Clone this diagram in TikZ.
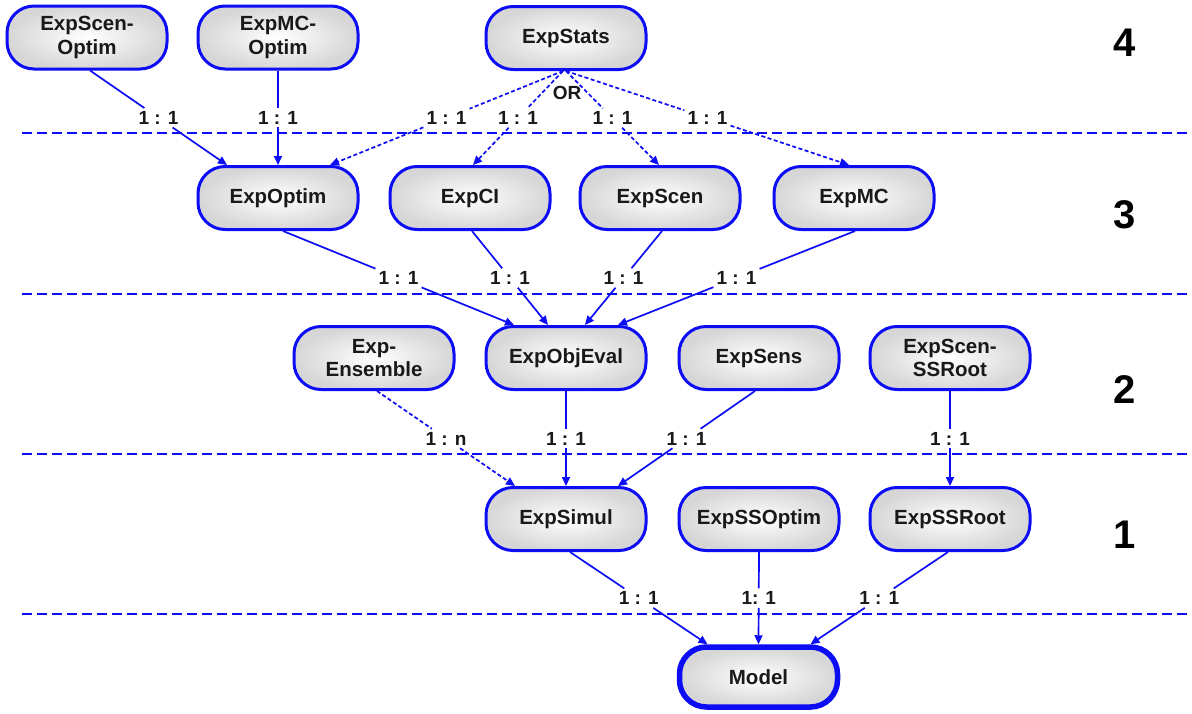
\documentclass[tikz,border=0pt]{standalone}
\usepackage{fontspec}
\setmainfont{Liberation Sans}
\usetikzlibrary{arrows.meta,calc}
\definecolor{linkblue}{RGB}{12,12,245}
\definecolor{ink}{RGB}{25,25,25}

% one connector: label at the midpoint, line broken around it
\newcommand{\linkit}[5]{%
  \node[lbl] (#5) at ($(#2)!0.5!(#3)$) {#4};
  \draw[conn,#1] (#2) -- (#5);
  \draw[conn,#1,tip] (#5) -- (#3);
}

\begin{document}
\begin{tikzpicture}[x=1pt,y=-1pt,
  box/.style={draw=linkblue, line width=3pt, rounded corners=27pt,
    minimum width=160pt, minimum height=63pt, inner sep=2pt,
    inner color=white, outer color=black!16,
    font=\bfseries\fontsize{20.5}{23.5}\selectfont, align=center, text=ink},
  mainbox/.style={box, line width=5.5pt, minimum width=158pt, minimum height=60pt},
  conn/.style={draw=linkblue, line width=1.7pt},
  tip/.style={-{Triangle[length=9pt,width=8pt]}},
  dotln/.style={dash pattern=on 4pt off 2.5pt},
  lbl/.style={font=\bfseries\fontsize{19}{19}\selectfont, text=ink, inner sep=3pt},
  sep/.style={draw=linkblue, line width=1.7pt, dash pattern=on 10pt off 5pt},
  level/.style={font=\bfseries\fontsize{40}{40}\selectfont, text=black}
]
\useasboundingbox[fill=white] (0,0) rectangle (1192,713);

% level separators
\foreach \yy in {133,294,454,614}
  \draw[sep] (22,\yy) -- (1192,\yy);

% level numbers
\node[level] (n4) at (1125,43) {4};
\node[level] (n3) at (1125,215) {3};
\node[level] (n2) at (1125,390) {2};
\node[level] (n1) at (1125,535) {1};

% level 4
\node[box] (eso) at (87,37.5) {ExpScen-\\Optim};
\node[box] (emo) at (278,37.5) {ExpMC-\\Optim};
\node[box] (est) at (566,38) {ExpStats};
% level 3
\node[box] (eop) at (278,198) {ExpOptim};
\node[box] (eci) at (470,198) {ExpCI};
\node[box] (esc) at (660,198) {ExpScen};
\node[box] (emc) at (854,198) {ExpMC};
% level 2
\node[box] (ens) at (374,358) {Exp-\\Ensemble};
\node[box] (eoe) at (566,358) {ExpObjEval};
\node[box] (ese) at (759,358) {ExpSens};
\node[box] (escr) at (950,358) {ExpScen-\\SSRoot};
% level 1
\node[box] (esi) at (566,519) {ExpSimul};
\node[box] (esso) at (759,519) {ExpSSOptim};
\node[box] (essr) at (950,519) {ExpSSRoot};
% model
\node[mainbox] (mod) at (758.5,677) {Model};

% attachment points
\coordinate (a1) at ($(eso.south)+(3,0)$);   \coordinate (b1) at ($(eop.north)+(-51,0)$);
\coordinate (a2) at (emo.south);             \coordinate (b2) at (eop.north);
\coordinate (a3) at ($(est.south)+(-3,0)$);  \coordinate (b3) at ($(eop.north)+(52,0)$);
\coordinate (a4) at ($(est.south)+(-3,0)$);  \coordinate (b4) at ($(eci.north)+(3,0)$);
\coordinate (a5) at (est.south);             \coordinate (b5) at ($(esc.north)+(-1,0)$);
\coordinate (a6) at (est.south);             \coordinate (b6) at ($(emc.north)+(-5,0)$);
\coordinate (a7) at ($(eop.south)+(5,0)$);   \coordinate (b7) at ($(eoe.north)+(-52,0)$);
\coordinate (a8) at ($(eci.south)+(2,0)$);   \coordinate (b8) at ($(eoe.north)+(-18,0)$);
\coordinate (a9) at ($(esc.south)+(2,0)$);   \coordinate (b9) at ($(eoe.north)+(19,0)$);
\coordinate (a10) at ($(emc.south)+(1,0)$);  \coordinate (b10) at ($(eoe.north)+(52,0)$);
\coordinate (a11) at ($(ens.south)+(3,0)$);  \coordinate (b11) at ($(esi.north)+(-51,0)$);
\coordinate (a12) at (eoe.south);            \coordinate (b12) at (esi.north);
\coordinate (a13) at ($(ese.south)+(-4,0)$); \coordinate (b13) at ($(esi.north)+(52,0)$);
\coordinate (a14) at (escr.south);           \coordinate (b14) at (essr.north);
\coordinate (a15) at ($(esi.south)+(4,0)$);  \coordinate (b15) at ($(mod.north)+(-51,0)$);
\coordinate (a16) at (esso.south);           \coordinate (b16) at (mod.north);
\coordinate (a17) at ($(essr.south)+(-2,0)$);\coordinate (b17) at ($(mod.north)+(52,0)$);

% level 4 -> 3
\linkit{}{a1}{b1}{1 : 1}{l1}
\linkit{}{a2}{b2}{1 : 1}{l2}
\linkit{dotln}{a3}{b3}{1 : 1}{l3}
\linkit{dotln}{a4}{b4}{1 : 1}{l4}
\linkit{dotln}{a5}{b5}{1 : 1}{l5}
\linkit{dotln}{a6}{b6}{1 : 1}{l6}
\node[lbl] (or) at (567,93) {OR};
% level 3 -> 2
\linkit{}{a7}{b7}{1 : 1}{l7}
\linkit{}{a8}{b8}{1 : 1}{l8}
\linkit{}{a9}{b9}{1 : 1}{l9}
\linkit{}{a10}{b10}{1 : 1}{l10}
% level 2 -> 1
\linkit{dotln}{a11}{b11}{1 : n}{l11}
\linkit{}{a12}{b12}{1 : 1}{l12}
\linkit{}{a13}{b13}{1 : 1}{l13}
\linkit{}{a14}{b14}{1 : 1}{l14}
% level 1 -> model
\linkit{}{a15}{b15}{1 : 1}{l15}
\linkit{}{a16}{b16}{1: 1}{l16}
\linkit{}{a17}{b17}{1 : 1}{l17}
\end{tikzpicture}
\end{document}
